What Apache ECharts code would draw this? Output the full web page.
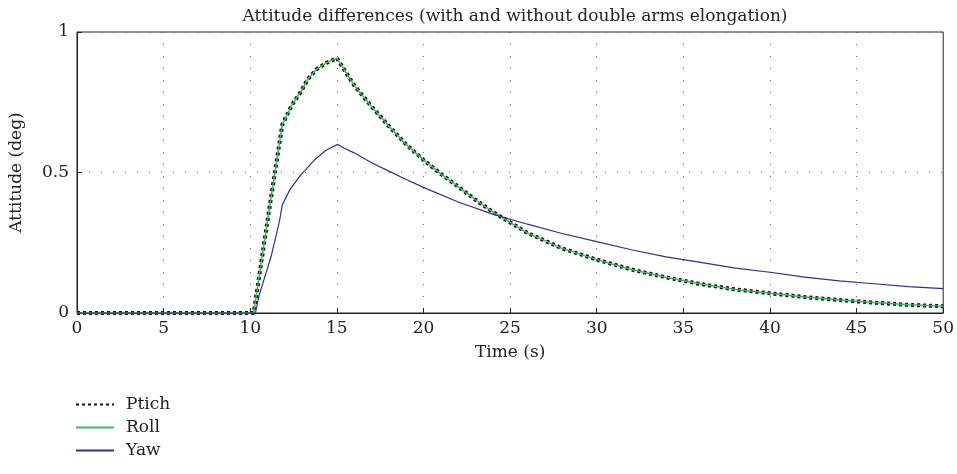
<!DOCTYPE html>
<html>
<head>
<meta charset="utf-8">
<script src="https://cdn.jsdelivr.net/npm/echarts@6/dist/echarts.min.js"></script>
<style>
  html, body { margin: 0; padding: 0; background: #fff; }
  #chart { width: 957px; height: 474px; }
</style>
</head>
<body>
<div id="chart"></div>
<script>
  // time (s) and attitude (deg)
  const pitchTime = [0, 10.2, 11, 11.85, 12.4, 12.9, 13.3, 13.8, 14.4, 15, 16, 17, 18, 19, 20, 21, 22, 23, 24, 26, 28, 30, 32, 34, 36, 38, 40, 42, 44, 46, 48, 50]
  const pitchValues = [0, 0, 0.33, 0.67, 0.74, 0.785, 0.83, 0.866, 0.89, 0.907, 0.81, 0.735, 0.665, 0.60, 0.545, 0.495, 0.45, 0.403, 0.36, 0.285, 0.23, 0.19, 0.155, 0.127, 0.103, 0.084, 0.07, 0.057, 0.046, 0.037, 0.029, 0.024]
  const rollTime = pitchTime
  const rollValues = [0, 0, 0.33, 0.67, 0.74, 0.785, 0.83, 0.866, 0.89, 0.907, 0.81, 0.735, 0.665, 0.60, 0.545, 0.495, 0.45, 0.403, 0.36, 0.285, 0.23, 0.19, 0.155, 0.127, 0.103, 0.084, 0.07, 0.057, 0.046, 0.037, 0.029, 0.024]
  const yawTime = [0, 10.3, 10.5, 11.2, 11.7, 11.85, 12.3, 12.9, 13.8, 14.4, 15.05, 15.4, 16, 17, 18, 19, 20, 22, 24, 26, 28, 30, 32, 34, 36, 38, 40, 42, 44, 46, 48, 50]
  const yawValues = [0, 0, 0.06, 0.2, 0.33, 0.385, 0.44, 0.49, 0.55, 0.58, 0.60, 0.587, 0.57, 0.535, 0.505, 0.475, 0.447, 0.395, 0.352, 0.316, 0.283, 0.254, 0.225, 0.2, 0.18, 0.16, 0.145, 0.128, 0.114, 0.104, 0.094, 0.087]
  const xTicks = [0, 5, 10, 15, 20, 25, 30, 35, 40, 45, 50]
  const yTicks = [0, 0.5, 1]

  const serif = 'DejaVu Serif'
  const ink = '#222'
  const zip = (t, v) => t.map((x, i) => [x, v[i]])

  let myChart = echarts.init(document.getElementById('chart'))
  myChart.setOption({
    animation: false,
    textStyle: { fontFamily: serif },
    title: {
      text: 'Attitude differences (with and without double arms elongation)',
      left: 510,
      textAlign: 'center',
      top: 3,
      textStyle: { fontFamily: serif, fontSize: 17, fontWeight: 'normal', color: ink }
    },
    grid: {
      left: 77,
      right: 13,
      top: 32,
      bottom: 161,
      show: true,
      borderColor: ink,
      borderWidth: 1
    },
    legend: {
      orient: 'vertical',
      left: 70,
      top: 391,
      itemWidth: 38,
      itemHeight: 14,
      itemGap: 6,
      itemStyle: { opacity: 0 },
      textStyle: { fontFamily: serif, fontSize: 17, color: ink, padding: [0, 0, 0, 7] },
      data: ['Ptich', 'Roll', 'Yaw']
    },
    xAxis: {
      type: 'value',
      min: xTicks[0],
      max: xTicks[xTicks.length - 1],
      interval: 5,
      name: 'Time (s)',
      nameLocation: 'middle',
      nameGap: 31,
      nameTextStyle: { fontFamily: serif, fontSize: 17, color: ink },
      axisLine: { lineStyle: { color: ink, width: 1 } },
      axisTick: { inside: true, length: 5, lineStyle: { color: ink } },
      axisLabel: { margin: 7, fontFamily: serif, fontSize: 17, color: ink },
      splitLine: { show: true, lineStyle: { color: '#666', type: [1, 11], width: 1 } }
    },
    yAxis: {
      type: 'value',
      min: yTicks[0],
      max: yTicks[yTicks.length - 1],
      interval: 0.5,
      name: 'Attitude (deg)',
      nameLocation: 'middle',
      nameGap: 52,
      nameTextStyle: { fontFamily: serif, fontSize: 17, color: ink },
      axisLine: { lineStyle: { color: ink, width: 1 } },
      axisTick: { inside: true, length: 5, lineStyle: { color: ink } },
      axisLabel: { margin: 8, fontFamily: serif, fontSize: 17, color: ink },
      splitLine: { show: true, lineStyle: { color: '#666', type: [1, 11], width: 1 } }
    },
    series: [
      {
        name: 'Ptich',
        type: 'line',
        data: zip(pitchTime, pitchValues),
        showSymbol: false,
        symbol: 'none',
        itemStyle: { color: '#111' },
        lineStyle: { color: '#111', width: 4, type: [3, 3] }
      },
      {
        name: 'Roll',
        type: 'line',
        data: zip(rollTime, rollValues),
        showSymbol: false,
        symbol: 'none',
        itemStyle: { color: '#3db55e' },
        lineStyle: { color: '#3db55e', width: 1.5 }
      },
      {
        name: 'Yaw',
        type: 'line',
        data: zip(yawTime, yawValues),
        showSymbol: false,
        symbol: 'none',
        itemStyle: { color: '#2e2e96' },
        lineStyle: { color: '#2e2e96', width: 1.2 }
      }
    ]
  })
</script>
</body>
</html>
